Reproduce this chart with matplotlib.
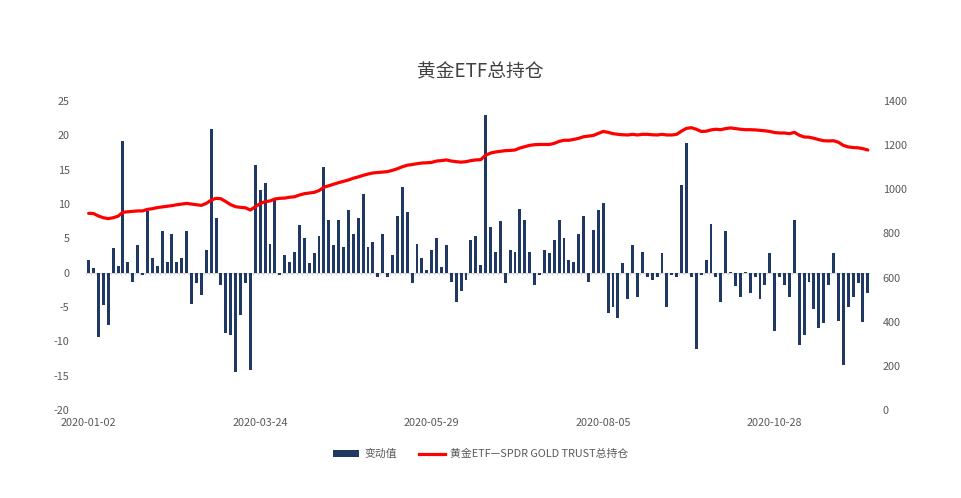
import matplotlib
matplotlib.use("Agg")
import matplotlib.pyplot as plt
import numpy as np
from matplotlib.lines import Line2D
from matplotlib.patches import Patch

plt.rcParams['font.family'] = ['Noto Sans CJK SC', 'DejaVu Sans']
plt.rcParams['axes.unicode_minus'] = False

# ---- data ----
tick_labels = ['2020-01-02', '2020-03-24', '2020-05-29', '2020-08-05', '2020-10-28']
tick_every = 35

change = [
    1.9, 0.7, -9.4, -4.7, -7.6, 3.6, 1.0, 19.2, 1.6, -1.3,
    4.0, -0.3, 9.0, 2.2, 1.0, 6.0, 1.6, 5.7, 1.6, 2.2,
    6.0, -4.5, -1.5, -3.3, 3.3, 20.9, 8.0, -1.8, -8.8, -9.1,
    -14.5, -6.2, -1.5, -14.2, 15.7, 12.0, 13.1, 4.2, 10.6, -0.3,
    2.5, 1.6, 3.0, 6.9, 5.1, 1.4, 2.8, 5.4, 15.4, 7.7,
    4.0, 7.7, 3.7, 9.1, 5.7, 8.0, 11.4, 3.7, 4.5, -0.7,
    5.7, -0.6, 2.5, 8.3, 12.5, 8.9, -1.5, 4.2, 2.2, 0.4,
    3.3, 5.1, 0.8, 4.0, -1.3, -4.2, -2.7, -1.0, 4.8, 5.4,
    1.1, 23.0, 6.6, 3.0, 7.5, -1.5, 3.3, 3.0, 9.3, 7.7,
    3.0, -1.8, -0.3, 3.3, 2.8, 4.8, 7.7, 5.1, 1.9, 1.6,
    5.7, 8.3, -1.3, 6.2, 9.1, 10.2, -5.9, -5.0, -6.6, 1.4,
    -3.9, 4.0, -3.6, 3.0, -0.7, -1.0, -0.7, 2.8, -5.0, -0.4,
    -0.7, 12.8, 18.9, -0.7, -11.1, -0.3, 1.9, 7.1, -0.7, -4.2,
    6.0, 0.1, -2.0, -3.6, 0.1, -3.0, -0.7, -3.9, -1.8, 2.8,
    -8.5, -0.7, -1.8, -3.6, 7.7, -10.6, -9.1, -1.3, -5.3, -8.1,
    -7.4, -1.8, 2.8, -7.1, -13.5, -5.0, -3.6, -1.5, -7.2, -3.0,
]

holdings = [
    891, 890, 879, 871, 867, 871, 878, 896, 898, 900,
    902, 902, 909, 912, 917, 920, 923, 926, 930, 933,
    936, 933, 930, 927, 936, 951, 959, 957, 944, 930,
    921, 918, 916, 906, 921, 935, 944, 947, 956, 959,
    960, 964, 966, 974, 980, 983, 986, 994, 1009, 1016,
    1023, 1030, 1036, 1042, 1050, 1056, 1063, 1069, 1074, 1076,
    1078, 1080, 1086, 1093, 1102, 1109, 1112, 1116, 1119, 1120,
    1122, 1128, 1130, 1133, 1128, 1125, 1123, 1125, 1130, 1133,
    1134, 1154, 1164, 1169, 1172, 1175, 1176, 1178, 1187, 1193,
    1199, 1202, 1203, 1203, 1203, 1208, 1217, 1222, 1222, 1226,
    1231, 1238, 1241, 1244, 1253, 1262, 1258, 1252, 1249, 1247,
    1246, 1249, 1246, 1249, 1249, 1247, 1246, 1249, 1246, 1246,
    1249, 1264, 1276, 1279, 1272, 1262, 1263, 1269, 1272, 1270,
    1275, 1278, 1275, 1272, 1270, 1270, 1269, 1267, 1265, 1262,
    1257, 1255, 1255, 1252, 1258, 1245, 1237, 1236, 1231, 1225,
    1220, 1219, 1220, 1213, 1199, 1192, 1189, 1188, 1184, 1178,
]

bar_label = '变动值'
line_label = '黄金ETF—SPDR GOLD TRUST总持仓'
title = '黄金ETF总持仓'

# ---- style ----
bar_color = '#1F3864'
line_color = '#FF0000'
text_color = '#595959'
axis_color = '#D9D9D9'

fig = plt.figure(figsize=(9.61, 4.98), dpi=100)
ax = fig.add_axes([0.0897, 0.1767, 0.8159, 0.6205])
ax2 = ax.twinx()

n = len(change)
x = np.arange(n)
ax.bar(x, change, width=0.6, color=bar_color, zorder=2)
ax.axhline(0, color=axis_color, linewidth=0.8, zorder=1)
# small category tick marks on the zero line
ax.vlines(np.arange(n + 1) - 0.5, -0.35, 0, color=axis_color, linewidth=0.8, zorder=1)
ax2.plot(x, holdings, color=line_color, linewidth=2.3, solid_capstyle='round', zorder=3)

ax.set_xlim(-0.5, n - 0.5)
ax.set_ylim(-20, 25)
ax.set_yticks(np.arange(-20, 26, 5))
ax2.set_ylim(0, 1400)
ax2.set_yticks(np.arange(0, 1401, 200))

ax.set_xticks(np.arange(0, n, tick_every)[:len(tick_labels)])
ax.set_xticklabels(tick_labels)

for a in (ax, ax2):
    for s in a.spines.values():
        s.set_visible(False)
    a.tick_params(length=0, labelsize=7.8, colors=text_color)
ax.tick_params(axis='y', pad=12)
ax2.tick_params(axis='y', pad=9)
ax.tick_params(axis='x', pad=6)

ax.set_zorder(1)
ax2.set_zorder(2)
ax.patch.set_visible(False)

fig.text(0.4995, 0.855, title, ha='center', va='center', fontsize=13.5, color='#404040')

handles = [Patch(facecolor=bar_color, edgecolor='none'),
           Line2D([0], [0], color=line_color, linewidth=2.3)]
fig.legend(handles, [bar_label, line_label], loc='center', bbox_to_anchor=(0.5, 0.088),
           ncol=2, frameon=False, fontsize=7.8, labelcolor=text_color,
           handlelength=2.4, handleheight=0.6, columnspacing=2.0, handletextpad=0.5)

fig.savefig('out.png', dpi=100, facecolor='white')
